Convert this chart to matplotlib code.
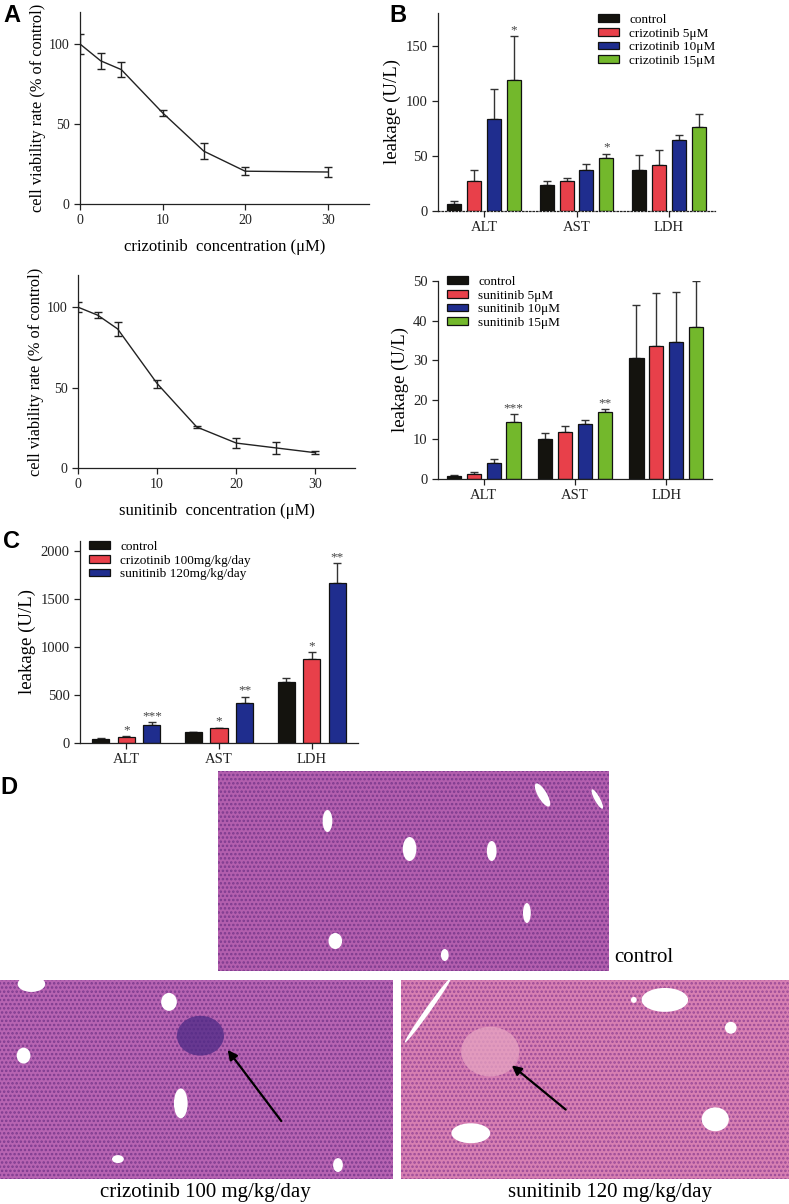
import matplotlib.pyplot as plt
from matplotlib.patches import Ellipse, Rectangle
import numpy as np

plt.rcParams['font.family'] = ['Liberation Serif', 'DejaVu Serif']
plt.rcParams['hatch.linewidth'] = 1.2

W, H = 789, 1204

# ---- panel A: cell viability
criz_conc = [0, 2.5, 5, 10, 15, 20, 30]
criz_viab = [100, 89.5, 84, 57, 33, 20.5, 20]
criz_sd = [6, 5, 4.5, 2, 5, 2.5, 3]

suni_conc = [0, 2.5, 5, 10, 15, 20, 25, 30]
suni_viab = [100, 95, 86.5, 52.5, 25.5, 15.5, 12.5, 9.5]
suni_sd = [3, 2, 4.5, 2.5, 0.7, 3, 3.5, 1]

# ---- panel B: enzyme leakage in vitro
enzymes = ['ALT', 'AST', 'LDH']

criz_labels = ['control', 'crizotinib 5μM', 'crizotinib 10μM', 'crizotinib 15μM']
criz_leak = [[6, 23.5, 37], [27.5, 27.5, 41.5], [84, 37.5, 65], [119, 48.5, 76.5]]
criz_leak_err = [[3.5, 4, 14], [9.5, 2.3, 14], [26.5, 5, 4], [40, 3.5, 12]]
criz_stars = [['', '', ''], ['', '', ''], ['', '', ''], ['*', '*', '']]

suni_labels = ['control', 'sunitinib 5μM', 'sunitinib 10μM', 'sunitinib 15μM']
suni_leak = [[0.75, 10, 30.5], [1.35, 11.9, 33.5], [4.1, 13.9, 34.7], [14.3, 16.9, 38.4]]
suni_leak_err = [[0.25, 1.7, 13.4], [0.4, 1.4, 13.5], [1.0, 0.9, 12.4], [2.0, 0.7, 11.6]]
suni_stars = [['', '', ''], ['', '', ''], ['', '', ''], ['***', '**', '']]

# ---- panel C: serum enzymes in vivo
vivo_labels = ['control', 'crizotinib 100mg/kg/day', 'sunitinib 120mg/kg/day']
vivo_leak = [[45, 112, 630], [58, 152, 878], [186, 421, 1666]]
vivo_leak_err = [[5, 7, 42], [10, 7, 63], [28, 62, 202]]
vivo_stars = [['', '', ''], ['*', '*', '*'], ['***', '**', '**']]

bar_colors4 = ['#14130e', '#e8404a', '#1f2d8e', '#73b82c']
bar_colors3 = ['#14130e', '#e8404a', '#1f2d8e']

fig = plt.figure(figsize=(W / 100, H / 100), dpi=100)


def px_axes(l, t, r, b):
    return fig.add_axes([l / W, 1 - b / H, (r - l) / W, (b - t) / H])


def style(ax):
    for s in ['top', 'right']:
        ax.spines[s].set_visible(False)
    for s in ['left', 'bottom']:
        ax.spines[s].set_linewidth(0.9)
        ax.spines[s].set_color('#222222')
    ax.tick_params(direction='out', length=4, width=0.9, labelsize=10.5, colors='#222222')


def viability(ax, x, y, e, xlabel):
    style(ax)
    ax.errorbar(x, y, yerr=e, color='#222222', lw=1.0, capsize=3.2, elinewidth=1.0,
                capthick=1.0)
    ax.set_xlim(0, 35)
    ax.set_ylim(0, 120)
    ax.set_xticks([0, 10, 20, 30])
    ax.set_yticks([0, 50, 100])
    ax.tick_params(labelsize=10)
    ax.set_xlabel(xlabel, fontsize=12, labelpad=8)
    ax.set_ylabel('cell viability rate (% of control)', fontsize=11.8, labelpad=2)


def bars(ax, vals, errs, stars, colors, labels, step, width, ylim, yticks, leg_xy):
    style(ax)
    n = len(vals)
    g = np.arange(len(enzymes))
    for i in range(n):
        xs = g + (i - (n - 1) / 2) * step
        ax.bar(xs, vals[i], width, color=colors[i], edgecolor='#111111', lw=0.9,
               label=labels[i], zorder=2)
        ax.errorbar(xs, vals[i], yerr=[np.zeros(len(g)), errs[i]], fmt='none',
                    ecolor='#333333', elinewidth=1.0, capsize=2.8, capthick=1.0, zorder=1)
        for xv, v, e, s in zip(xs, vals[i], errs[i], stars[i]):
            if s:
                ax.annotate(s, (xv, v + e), xytext=(0, 0), textcoords='offset points',
                            ha='center', va='bottom', fontsize=9.5, color='#444444')
    ax.set_xlim(-0.5, 2.5)
    ax.set_ylim(*ylim)
    ax.set_xticks(g)
    ax.set_xticklabels(enzymes, fontsize=10.5)
    ax.set_yticks(yticks)
    ax.set_ylabel('leakage (U/L)', fontsize=13.5, labelpad=3)
    ax.legend(loc='upper left', bbox_to_anchor=(leg_xy[0] / W, 1 - leg_xy[1] / H),
              bbox_transform=fig.transFigure, frameon=False, fontsize=9.5,
              borderpad=0, borderaxespad=0, handlelength=1.6, handleheight=0.55,
              handletextpad=0.75, labelspacing=0.12)


# A
axA1 = px_axes(80, 12, 369, 204)
viability(axA1, criz_conc, criz_viab, criz_sd, 'crizotinib  concentration (μM)')
axA2 = px_axes(78, 275, 355, 468)
viability(axA2, suni_conc, suni_viab, suni_sd, 'sunitinib  concentration (μM)')

# B
axB1 = px_axes(438, 13, 715, 211)
bars(axB1, criz_leak, criz_leak_err, criz_stars, bar_colors4, criz_labels,
     0.215, 0.152, (0, 180), [0, 50, 100, 150], (598, 14))
axB1.spines['bottom'].set_linestyle((0, (1.2, 1.6)))
axB2 = px_axes(438, 281, 712, 479)
bars(axB2, suni_leak, suni_leak_err, suni_stars, bar_colors4, suni_labels,
     0.218, 0.155, (0, 50), [0, 10, 20, 30, 40, 50], (447, 276))

# C
axC = px_axes(80, 541, 358, 743)
bars(axC, vivo_leak, vivo_leak_err, vivo_stars, bar_colors3, vivo_labels,
     0.276, 0.184, (0, 2100), [0, 500, 1000, 1500, 2000], (89, 541))


# D: liver sections (drawn as stained tissue fields)
def tissue(ax, base, dots, vessels, focus=None, arrow=None):
    ax.set_xlim(0, 1)
    ax.set_ylim(0, 1)
    ax.set_axis_off()
    ax.add_patch(Rectangle((0, 0), 1, 1, facecolor=base, edgecolor=dots, lw=0,
                           hatch='....', zorder=0))
    for (cx, cy, w, h, a) in vessels:
        ax.add_patch(Ellipse((cx, cy), w, h, angle=a, facecolor='white', edgecolor='none',
                             zorder=2))
    if focus is not None:
        cx, cy, w, h, c = focus
        ax.add_patch(Ellipse((cx, cy), w, h, facecolor=c, edgecolor='none', alpha=0.75,
                             zorder=1))
    if arrow is not None:
        ax.annotate('', xy=arrow[0], xytext=arrow[1],
                    arrowprops=dict(arrowstyle='-|>', color='black', lw=1.6,
                                    mutation_scale=14), zorder=3)


axD1 = px_axes(218, 771, 609, 971)
tissue(axD1, '#b35fae', '#7c3a8e',
       [(0.28, 0.75, 0.025, 0.11, 0), (0.49, 0.61, 0.035, 0.12, 0), (0.7, 0.6, 0.025, 0.1, 0),
        (0.83, 0.88, 0.025, 0.12, 15), (0.97, 0.86, 0.015, 0.1, 15),
        (0.79, 0.29, 0.02, 0.1, 0), (0.3, 0.15, 0.035, 0.08, 0), (0.58, 0.08, 0.02, 0.06, 0)])
axD2 = px_axes(0, 980, 393, 1179)
tissue(axD2, '#b764b2', '#7d3b8f',
       [(0.08, 0.98, 0.07, 0.08, 0), (0.43, 0.89, 0.04, 0.09, 0), (0.06, 0.62, 0.035, 0.08, 0),
        (0.46, 0.38, 0.035, 0.15, 0), (0.3, 0.1, 0.03, 0.04, 0), (0.86, 0.07, 0.025, 0.07, 0)],
       focus=(0.51, 0.72, 0.12, 0.2, '#4d2a86'),
       arrow=((0.575, 0.66), (0.72, 0.28)))
axD3 = px_axes(401, 980, 789, 1179)
tissue(axD3, '#d77fb2', '#9a4a97',
       [(0.07, 0.85, 0.015, 0.35, -20), (0.68, 0.9, 0.12, 0.12, -10), (0.85, 0.76, 0.03, 0.06, 0),
        (0.81, 0.3, 0.07, 0.12, 0), (0.6, 0.9, 0.015, 0.03, 0), (0.18, 0.23, 0.1, 0.1, -20)],
       focus=(0.23, 0.64, 0.15, 0.25, '#e7a4c2'),
       arrow=((0.28, 0.58), (0.43, 0.34)))

# panel letters and captions
for letter, (x, y) in {'A': (3, 4), 'B': (389, 4), 'C': (3, 530), 'D': (0, 776)}.items():
    fig.text(x / W, 1 - y / H, letter, fontsize=17, fontweight='bold', family='Liberation Sans',
             ha='left', va='top')
fig.text(614 / W, 1 - 958 / H, 'control', fontsize=15, ha='left', va='center')
fig.text(205 / W, 1 - 1192 / H, 'crizotinib 100 mg/kg/day', fontsize=15, ha='center',
         va='center')
fig.text(610 / W, 1 - 1192 / H, 'sunitinib 120 mg/kg/day', fontsize=15, ha='center',
         va='center')

fig.savefig('out.png', dpi=100)
